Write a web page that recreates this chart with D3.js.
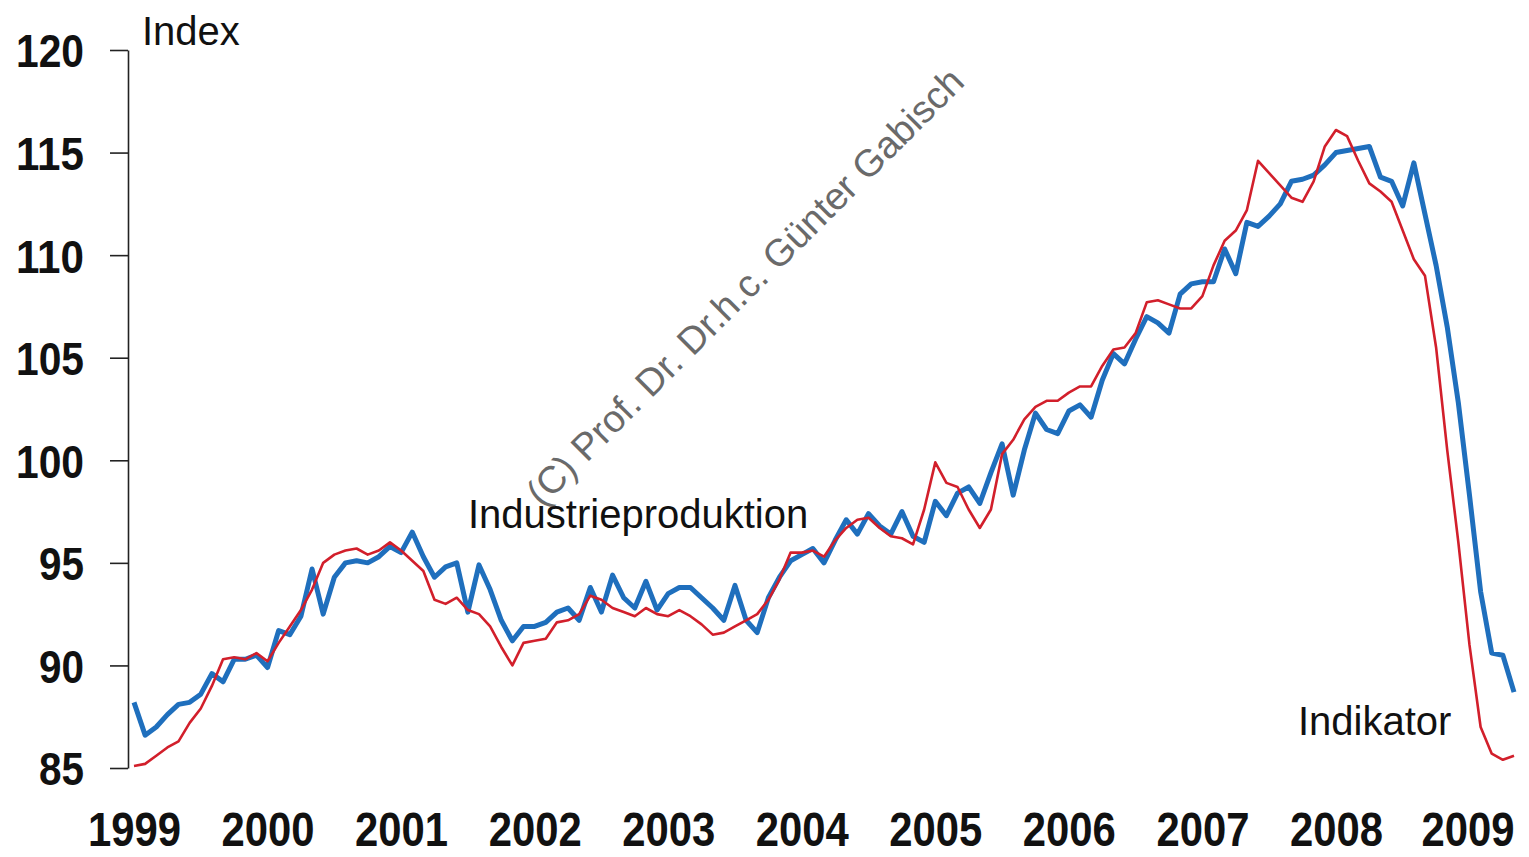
<!DOCTYPE html>
<html>
<head>
<meta charset="utf-8">
<title>Industrieproduktion und Indikator</title>
<style>
  body { margin: 0; background: #fff; }
  svg { display: block; }
  .tick-y text { font-family: 'Liberation Sans', Arial; font-weight: bold; font-size: 47px; fill: #111; }
  .tick-x text { font-family: 'Liberation Sans', Arial; font-weight: bold; font-size: 49px; fill: #111; }
  .lbl { font-family: 'Liberation Sans', Arial; font-size: 40px; fill: #111; }
  .wm { font-family: 'Liberation Sans', Arial; font-size: 38px; fill: #6a6a6a; }
</style>
</head>
<body>
<script src="https://d3js.org/d3.v7.min.js"></script>
<script>

// monthly values, Jan 1999 .. May 2009
var startYear = 1999;
var yTicks = [85, 90, 95, 100, 105, 110, 115, 120];
var years = [1999, 2000, 2001, 2002, 2003, 2004, 2005, 2006, 2007, 2008, 2009];

var industrie = [
  88.2, 86.6, 87.0, 87.6, 88.1, 88.2, 88.6, 89.6, 89.2, 90.3, 90.3, 90.5,
  89.9, 91.7, 91.5, 92.4, 94.7, 92.5, 94.3, 95.0, 95.1, 95.0, 95.3, 95.8,
  95.5, 96.5, 95.3, 94.3, 94.8, 95.0, 92.6, 94.9, 93.7, 92.2, 91.2, 91.9,
  91.9, 92.1, 92.6, 92.8, 92.2, 93.8, 92.6, 94.4, 93.3, 92.8, 94.1, 92.7,
  93.5, 93.8, 93.8, 93.3, 92.8, 92.2, 93.9, 92.2, 91.6, 93.3, 94.3, 95.1,
  95.4, 95.7, 95.0, 96.1, 97.1, 96.4, 97.4, 96.8, 96.4, 97.5, 96.3, 96.0,
  98.0, 97.3, 98.4, 98.7, 97.9, 99.4, 100.8, 98.3, 100.5, 102.3, 101.5, 101.3,
  102.4, 102.7, 102.1, 103.9, 105.2, 104.7, 105.9, 107.0, 106.7, 106.2, 108.1, 108.6,
  108.7, 108.7, 110.3, 109.1, 111.6, 111.4, 111.9, 112.5, 113.6, 113.7, 113.9, 114.4,
  115.0, 115.1, 115.2, 115.3, 113.8, 113.6, 112.4, 114.5, 112.0, 109.5, 106.5, 102.8,
  98.3, 93.6, 90.6, 90.5, 88.7
];

var indikator = [
  85.1, 85.2, 85.6, 86.0, 86.3, 87.2, 87.9, 89.0, 90.3, 90.4, 90.3, 90.6,
  90.2, 91.1, 91.9, 92.7, 93.7, 95.0, 95.4, 95.6, 95.7, 95.4, 95.6, 96.0,
  95.6, 95.1, 94.6, 93.2, 93.0, 93.3, 92.7, 92.5, 91.9, 90.9, 90.0, 91.1,
  91.2, 91.3, 92.1, 92.2, 92.5, 93.4, 93.2, 92.8, 92.6, 92.4, 92.8, 92.5,
  92.4, 92.7, 92.4, 92.0, 91.5, 91.6, 91.9, 92.2, 92.5, 93.2, 94.2, 95.5,
  95.5, 95.6, 95.3, 96.1, 96.7, 97.1, 97.2, 96.7, 96.3, 96.2, 95.9, 97.6,
  99.9, 98.9, 98.7, 97.6, 96.7, 97.6, 100.3, 101.0, 102.0, 102.6, 102.9, 102.9,
  103.3, 103.6, 103.6, 104.6, 105.4, 105.5, 106.2, 107.7, 107.8, 107.6, 107.4, 107.4,
  108.0, 109.5, 110.7, 111.2, 112.2, 114.6, 114.0, 113.4, 112.8, 112.6, 113.6, 115.3,
  116.1, 115.8, 114.6, 113.5, 113.1, 112.6, 111.2, 109.8, 109.0, 105.5, 100.5, 96.0,
  91.0, 87.0, 85.7, 85.4, 85.6
];

var width = 1529;
var height = 857;

var svg = d3.select('body').append('svg')
  .attr('width', width)
  .attr('height', height);

var x = d3.scaleLinear()
  .domain([startYear, startYear + (industrie.length - 1) / 12])
  .range([134, 1514]);

var y = d3.scaleLinear()
  .domain([85, 120])
  .range([768, 50]);

// y axis
var yAxis = svg.append('g')
  .attr('class', 'tick-y')
  .attr('transform', 'translate(128,0)')
  .call(d3.axisLeft(y).tickValues(yTicks).tickSize(18).tickSizeOuter(0).tickPadding(26));
yAxis.select('.domain').attr('stroke', '#222').attr('stroke-width', 1.6);
yAxis.selectAll('.tick line').attr('stroke', '#222').attr('stroke-width', 1.6);
yAxis.selectAll('.tick text')
  .attr('dy', '0.36em')
  .attr('textLength', function (d) { return d >= 100 ? 68 : 45; })
  .attr('lengthAdjust', 'spacingAndGlyphs');

// x axis (labels only)
var xAxis = svg.append('g')
  .attr('class', 'tick-x')
  .attr('transform', 'translate(0,846)')
  .call(d3.axisBottom(x).tickValues(years).tickFormat(d3.format('d')).tickSize(0).tickPadding(0));
xAxis.select('.domain').remove();
xAxis.selectAll('.tick text')
  .attr('dy', '0')
  .attr('dx', function (d) { return d === 2009 ? -2 : 0; })
  .attr('textLength', 93)
  .attr('lengthAdjust', 'spacingAndGlyphs');

// watermark
svg.append('text')
  .attr('class', 'wm')
  .attr('transform', 'translate(542,508) rotate(-45)')
  .text('(C) Prof. Dr. Dr.h.c. Günter Gabisch');

var line = d3.line()
  .x(function (d, i) { return x(startYear + i / 12); })
  .y(function (d) { return y(d); });

svg.append('path')
  .datum(industrie)
  .attr('d', line)
  .attr('fill', 'none')
  .attr('stroke', '#1f6fbd')
  .attr('stroke-width', 5)
  .attr('stroke-linejoin', 'round');

svg.append('path')
  .datum(indikator)
  .attr('d', line)
  .attr('fill', 'none')
  .attr('stroke', '#d21f2b')
  .attr('stroke-width', 2.6)
  .attr('stroke-linejoin', 'round');

// labels
svg.append('text').attr('class', 'lbl').attr('x', 142).attr('y', 45).text('Index');
svg.append('text').attr('class', 'lbl').attr('x', 468).attr('y', 528).text('Industrieproduktion');
svg.append('text').attr('class', 'lbl').attr('x', 1298).attr('y', 735).text('Indikator');

</script>
</body>
</html>
